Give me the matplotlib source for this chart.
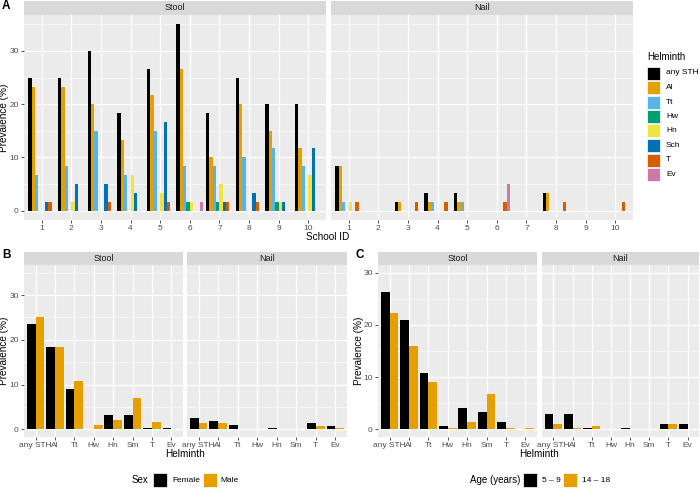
import numpy as np
import matplotlib
matplotlib.use("Agg")
import matplotlib.pyplot as plt
from matplotlib.patches import Rectangle

plt.rcParams['font.family'] = ['Liberation Sans', 'DejaVu Sans']

# Panel A data: prevalence (%) by school
schools = list(range(1, 11))
helminths_a = ['any STH', 'Al', 'Tt', 'Hw', 'Hn', 'Sch', 'T', 'Ev']
colors_a = ['#000000', '#E69F00', '#56B4E9', '#009E73', '#F0E442', '#0072B2', '#D55E00', '#CC79A7']

stool_any = [25, 25, 30, 18.3, 26.7, 35, 18.3, 25, 20, 20]
stool_al = [23.3, 23.3, 20, 13.3, 21.7, 26.7, 10, 20, 15, 11.7]
stool_tt = [6.7, 8.3, 15, 6.7, 15, 8.3, 8.3, 10, 11.7, 8.3]
stool_hw = [0, 0, 0, 0, 0, 1.7, 1.7, 0, 1.7, 0]
stool_hn = [0, 1.7, 0, 6.7, 3.3, 1.7, 5, 0, 1.7, 6.7]
stool_sch = [1.7, 5, 5, 3.3, 16.7, 0, 1.7, 3.3, 1.7, 11.7]
stool_t = [1.7, 0, 1.7, 0, 1.7, 0, 1.7, 1.7, 0, 0]
stool_ev = [0, 0, 0, 0, 0, 1.7, 0, 0, 0, 0]

nail_any = [8.3, 0, 1.7, 3.3, 3.3, 0, 0, 3.3, 0, 0]
nail_al = [8.3, 0, 1.7, 1.7, 1.7, 0, 0, 3.3, 0, 0]
nail_tt = [1.7, 0, 0, 1.7, 1.7, 0, 0, 0, 0, 0]
nail_hw = [0] * 10
nail_hn = [1.7, 0, 0, 0, 0, 0, 0, 0, 0, 0]
nail_sch = [0] * 10
nail_t = [1.7, 0, 1.7, 1.7, 0, 1.7, 0, 1.7, 0, 1.7]
nail_ev = [0, 0, 0, 0, 0, 5, 0, 0, 0, 0]

# Panels B and C data
helminths_bc = ['any STH', 'Al', 'Tt', 'Hw', 'Hn', 'Sm', 'T', 'Ev']
sex_groups = ['Female', 'Male']
stool_female = [23.6, 18.5, 9.0, 0, 3.2, 3.2, 0.2, 0.2]
stool_male = [25.1, 18.5, 10.8, 1.0, 2.1, 7.0, 1.5, 0]
nail_female = [2.6, 1.9, 1.0, 0, 0.2, 0, 1.35, 0.7]
nail_male = [1.4, 1.4, 0, 0, 0, 0, 0.75, 0.3]

age_groups = ['5 – 9', '14 – 18']
stool_young = [26.3, 21.0, 10.7, 0.7, 4.0, 3.3, 1.3, 0]
stool_old = [22.2, 16.0, 9.0, 0.25, 1.3, 6.7, 0.25, 0.25]
nail_young = [3.0, 3.0, 0.25, 0, 0.25, 0, 1.0, 1.0]
nail_old = [1.0, 0.25, 0.7, 0, 0, 0, 1.0, 0]

pair_colors = ['#000000', '#E69F00']

W, H = 700, 488
fig = plt.figure(figsize=(7, 4.88), dpi=100)

PANEL_BG = '#EBEBEB'
STRIP_BG = '#D9D9D9'
TICK_FS = 6
TITLE_FS = 7.2


def rect(x0, y0, x1, y1):
    return [x0 / W, 1 - y1 / H, (x1 - x0) / W, (y1 - y0) / H]


def make_panel(x0, y0, x1, y1, strip_h, label, ylim, xlim, yticks, minor, show_y):
    ax = fig.add_axes(rect(x0, y0, x1, y1))
    ax.set_facecolor(PANEL_BG)
    for s in ax.spines.values():
        s.set_visible(False)
    ax.set_xlim(*xlim)
    ax.set_ylim(*ylim)
    ax.set_yticks(yticks)
    ax.set_yticks(minor, minor=True)
    ax.grid(True, which='major', color='white', linewidth=0.9)
    ax.grid(True, which='minor', axis='y', color='white', linewidth=0.45)
    ax.set_axisbelow(True)
    ax.tick_params(which='major', length=2.5, width=0.6, color='#333333',
                   labelsize=TICK_FS, labelcolor='#4D4D4D', pad=1.2)
    ax.tick_params(which='minor', length=0)
    if not show_y:
        ax.tick_params(axis='y', length=0, labelleft=False)
    else:
        fig.text((x0 - 19.5) / W, 1 - (y0 + y1) / 2 / H, 'Prevalence (%)', rotation=90,
                 ha='center', va='center', fontsize=TITLE_FS)
    sax = fig.add_axes(rect(x0, y0 - strip_h, x1, y0))
    sax.set_facecolor(STRIP_BG)
    sax.set_xticks([])
    sax.set_yticks([])
    for s in sax.spines.values():
        s.set_visible(False)
    sax.text(0.5, 0.5, label, ha='center', va='center', fontsize=6.5,
             color='#1A1A1A', transform=sax.transAxes)
    return ax


# ---------- Panel A ----------
stool_a = [stool_any, stool_al, stool_tt, stool_hw, stool_hn, stool_sch, stool_t, stool_ev]
nail_a = [nail_any, nail_al, nail_tt, nail_hw, nail_hn, nail_sch, nail_t, nail_ev]
bw = 0.9 / len(helminths_a)
x = np.array(schools)
for (x0, x1, name, data) in [(24, 326, 'Stool', stool_a), (331, 633, 'Nail', nail_a)]:
    ax = make_panel(x0, 15, x1, 220, 14, name, (-1.75, 36.75), (0.4, 10.6),
                    [0, 10, 20, 30], [5, 15, 25, 35], name == 'Stool')
    for k, (vals, c) in enumerate(zip(data, colors_a)):
        ax.bar(x + (k - 3.5) * bw, vals, width=bw, color=c, linewidth=0)
    ax.set_xticks(schools)
    ax.set_xticklabels([str(s) for s in schools])

fig.text(328 / W, 1 - 237 / H, 'School ID', ha='center', va='center', fontsize=TITLE_FS)
fig.text(2 / W, 1 - 6 / H, 'A', ha='left', va='center', fontsize=8.5, fontweight='bold')

# legend A
fig.text(647 / W, 1 - 57 / H, 'Helminth', ha='left', va='center', fontsize=7)
for i, (lab, c) in enumerate(zip(helminths_a, colors_a)):
    yc = 73 + i * 14.5
    fig.patches.append(Rectangle(((647) / W, 1 - (yc + 6.5) / H), 13 / W, 13 / H,
                                 transform=fig.transFigure, facecolor=c,
                                 edgecolor='white', linewidth=0.5))
    fig.text(666 / W, 1 - yc / H, lab, ha='left', va='center', fontsize=6)


# ---------- Panels B and C ----------
def pair_panel(xs, ylim, yticks, minor, title_x, letter, letter_x,
               leg_title, leg_labels, leg_pos):
    xc = np.arange(1, len(helminths_bc) + 1)
    for (x0, x1, name, pair) in xs:
        ax = make_panel(x0, 265, x1, 437, 13, name, ylim, (0.4, 8.6),
                        yticks, minor, name == 'Stool')
        for k, (vals, c) in enumerate(zip(pair, pair_colors)):
            ax.bar(xc + (k - 0.5) * 0.45, vals, width=0.45, color=c, linewidth=0)
        ax.set_xticks(xc)
        ax.set_xticklabels(helminths_bc)
    fig.text(title_x / W, 1 - 454 / H, 'Helminth', ha='center', va='center', fontsize=TITLE_FS)
    fig.text(letter_x / W, 1 - 255 / H, letter, ha='left', va='center',
             fontsize=8.5, fontweight='bold')
    tx, k1, l1, k2, l2 = leg_pos
    fig.text(tx / W, 1 - 480 / H, leg_title, ha='left', va='center', fontsize=7)
    for kx, lx, lab, c in [(k1, l1, leg_labels[0], pair_colors[0]),
                           (k2, l2, leg_labels[1], pair_colors[1])]:
        fig.patches.append(Rectangle((kx / W, 1 - 487 / H), 14 / W, 14 / H,
                                     transform=fig.transFigure, facecolor=c,
                                     edgecolor='white', linewidth=0.5))
        fig.text(lx / W, 1 - 480 / H, lab, ha='left', va='center', fontsize=6)


pair_panel([(24, 183, 'Stool', [stool_female, stool_male]),
            (187, 347, 'Nail', [nail_female, nail_male])],
           (-1.75, 36.75), [0, 10, 20, 30], [5, 15, 25, 35],
           185, 'B', 2, 'Sex', sex_groups,
           (132, 153, 172, 203, 220))

pair_panel([(378, 537, 'Stool', [stool_young, stool_old]),
            (542, 699, 'Nail', [nail_young, nail_old])],
           (-1.5, 31.5), [0, 10, 20, 30], [5, 15, 25],
           539, 'C', 355, 'Age (years)', age_groups,
           (470, 523, 542, 563, 582))

fig.savefig('out.png', dpi=100)
